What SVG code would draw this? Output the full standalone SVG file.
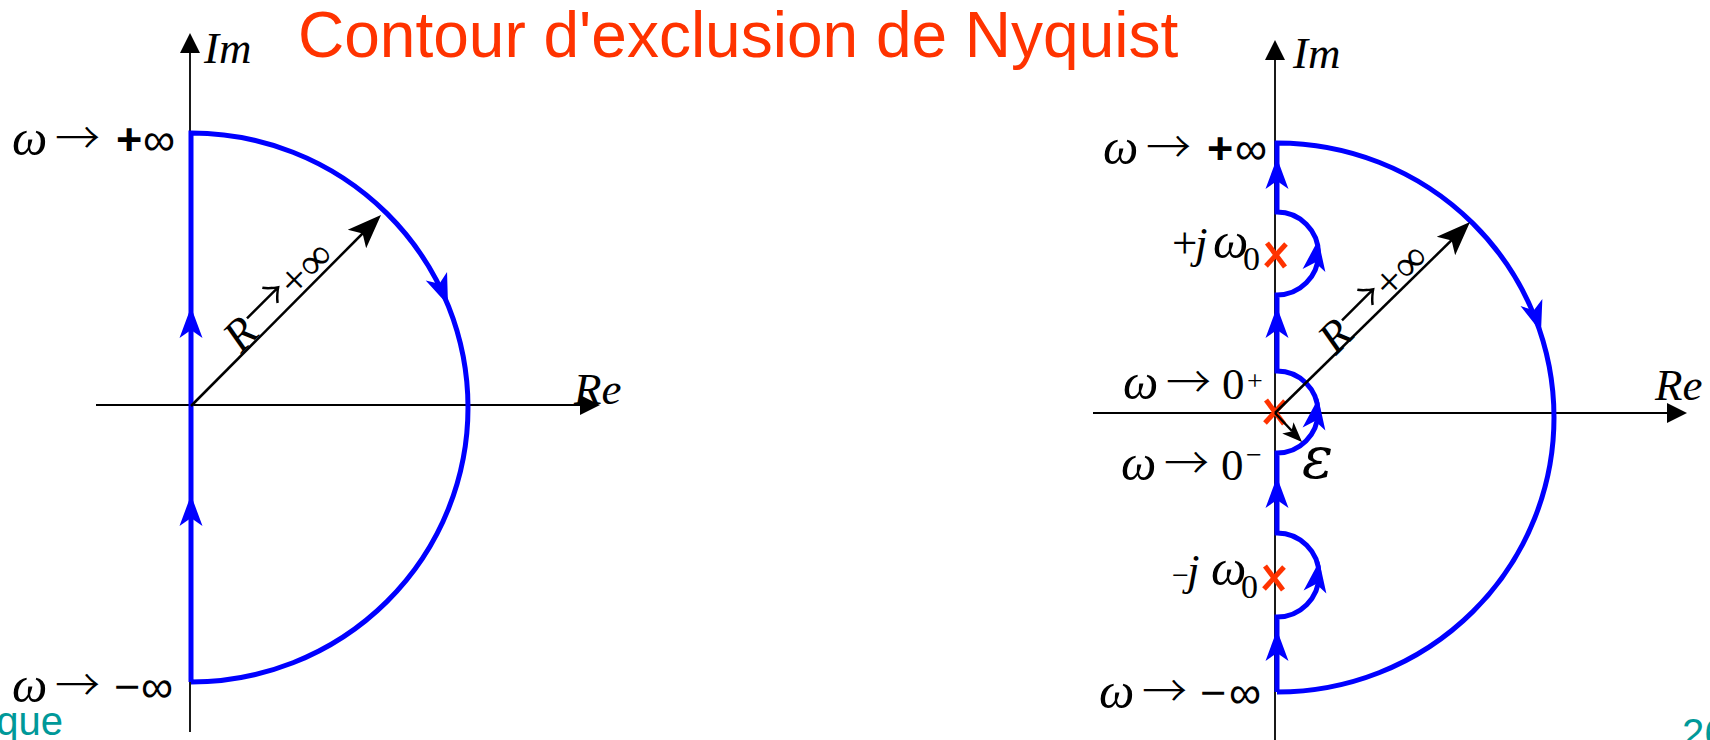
<svg xmlns="http://www.w3.org/2000/svg" width="1710" height="740" viewBox="0 0 1710 740">
<style>
.t{font-family:"Liberation Serif","Times New Roman","DejaVu Serif",serif;font-size:45px;fill:#000}
.i{font-style:italic}
.n{font-style:normal}
.w{font-style:italic;font-size:50px}
.a{font-family:"Noto Sans CJK SC","DejaVu Sans",sans-serif;font-style:normal;font-weight:300}
.s{font-family:"Liberation Sans",Arial,"DejaVu Sans",sans-serif}
.b{font-weight:bold}
.ax{stroke:#000;stroke-width:1.8;fill:none}
.ct{stroke:#0000FF;stroke-width:5;fill:none;stroke-linejoin:miter}
.rl{stroke:#000;stroke-width:2.5;fill:none}
.px{stroke:#FF3300;stroke-width:5}
.ft{font-family:"Liberation Sans",Arial,sans-serif;fill:#009999;font-size:40px}
.ttl{font-family:"Liberation Sans",Arial,sans-serif;fill:#FF3300;font-size:64px}
</style>
<defs>
<path id="ah" d="M0,0 L-11.5,31 L0,23 L11.5,31 Z" fill="#0000FF"/>
<path id="bh" d="M0,0 L-13,34 L0,26 L13,34 Z" fill="#000"/>
<path id="th" d="M0,0 L-10,20 L10,20 Z" fill="#000"/>
<path id="sh" d="M0,0 L-8,20 L0,15 L8,20 Z" fill="#000"/>
<g id="cross"><line class="px" x1="-9" y1="-12" x2="9" y2="12"/><line class="px" x1="10" y1="-11" x2="-10" y2="11"/></g>
</defs>

<g id="title"><text class="ttl" x="298" y="57">Contour d'exclusion de Nyquist</text></g>

<g id="left-plane">
<line class="ax" x1="190" y1="50" x2="190" y2="732"/>
<use href="#th" transform="translate(190,33)"/>
<line class="ax" x1="96" y1="405" x2="585" y2="405"/>
<use href="#th" transform="translate(600,405) rotate(90)"/>
<text class="t i" x="204" y="63" font-size="52">Im</text>
<text class="t i" x="574" y="404" font-size="52">Re</text>
</g>

<g id="left-contour">
<path class="ct" d="M191,682 L191,133 A277,274.5 0 0 1 191,682"/>
<use href="#ah" transform="translate(191,307)"/>
<use href="#ah" transform="translate(191,495)"/>
<use href="#ah" transform="translate(448,305) rotate(158)"/>
</g>

<g id="left-radius">
<path class="rl" d="M191,406 L372,224"/>
<use href="#bh" transform="translate(381,215) rotate(45)"/>
<text class="t i" font-size="55" transform="translate(241,354) rotate(-45)">R<tspan class="a" font-size="50" dy="-2">→</tspan><tspan class="n" dy="2">+∞</tspan></text>
</g>

<g id="left-labels">
<text class="t" y="155"><tspan class="w" x="12">ω</tspan><tspan class="a" x="55">→</tspan><tspan class="s b" x="116">+</tspan><tspan class="s" x="143">∞</tspan></text>
<text class="t" y="702"><tspan class="w" x="12">ω</tspan><tspan class="a" x="55">→</tspan><tspan class="s" x="114">−</tspan><tspan class="s" x="141">∞</tspan></text>
</g>

<g id="right-plane">
<line class="ax" x1="1275" y1="58" x2="1275" y2="740"/>
<use href="#th" transform="translate(1275,40)"/>
<line class="ax" x1="1093" y1="413" x2="1670" y2="413"/>
<use href="#th" transform="translate(1687,413) rotate(90)"/>
<text class="t i" x="1293" y="68" font-size="52">Im</text>
<text class="t i" x="1655" y="400" font-size="52">Re</text>
</g>

<g id="right-contour">
<path class="ct" d="M1277,692 L1277,617 A42,42 0 0 0 1277,533 L1277,453 A41,41 0 0 0 1277,371 L1277,295 A41.5,41.5 0 0 0 1277,212 L1277,143 A277,274.5 0 0 1 1277,692"/>
<use href="#ah" transform="translate(1277,158)"/>
<use href="#ah" transform="translate(1277,307)"/>
<use href="#ah" transform="translate(1277,477)"/>
<use href="#ah" transform="translate(1277,630)"/>
<use href="#ah" transform="translate(1541,332) rotate(162)"/>
<use href="#ah" transform="translate(1318.3,239.8) rotate(8)"/>
<use href="#ah" transform="translate(1318.3,398.3) rotate(8)"/>
<use href="#ah" transform="translate(1319.3,561.3) rotate(8)"/>
</g>

<g id="poles">
<use href="#cross" transform="translate(1276,255)"/>
<use href="#cross" transform="translate(1275,412)"/>
<use href="#cross" transform="translate(1274,578)"/>
</g>

<g id="right-radius">
<path class="rl" d="M1275,413 L1462,230"/>
<use href="#bh" transform="translate(1470,222) rotate(45)"/>
<text class="t i" font-size="55" transform="translate(1336,356) rotate(-45)">R<tspan class="a" font-size="50" dy="-2">→</tspan><tspan class="n" dy="2">+∞</tspan></text>
</g>

<g id="epsilon">
<path class="rl" d="M1275,413 L1292,431"/>
<use href="#sh" transform="translate(1302,442) rotate(135)"/>
<text x="1302" y="478" font-family="DejaVu Serif, Liberation Serif, serif" font-style="italic" font-size="58">ε</text>
</g>

<g id="right-labels">
<text class="t" y="164"><tspan class="w" x="1103">ω</tspan><tspan class="a" x="1146">→</tspan><tspan class="s b" x="1207">+</tspan><tspan class="s" x="1235">∞</tspan></text>
<text class="t" y="258"><tspan x="1172">+</tspan><tspan class="i" x="1195">j</tspan><tspan class="w" x="1213">ω</tspan><tspan x="1243" y="270" font-size="34">0</tspan></text>
<text class="t" y="399"><tspan class="w" x="1123">ω</tspan><tspan class="a" x="1166">→</tspan><tspan x="1222">0</tspan><tspan x="1247" y="390" font-size="28">+</tspan></text>
<text class="t" y="480"><tspan class="w" x="1121">ω</tspan><tspan class="a" x="1164">→</tspan><tspan x="1221">0</tspan><tspan x="1246" y="464" font-size="28">−</tspan></text>
<text class="t" y="585"><tspan x="1172" font-size="30">−</tspan><tspan class="i" x="1187">j</tspan><tspan class="w" x="1211">ω</tspan><tspan x="1241" y="598" font-size="34">0</tspan></text>
<text class="t" y="708"><tspan class="w" x="1099">ω</tspan><tspan class="a" x="1142">→</tspan><tspan class="s" x="1200">−</tspan><tspan class="s" x="1229">∞</tspan></text>
</g>

<g id="footer">
<text class="ft" x="63" y="735" text-anchor="end">que</text>
<text class="ft" x="1682" y="747">26</text>
</g>
</svg>
